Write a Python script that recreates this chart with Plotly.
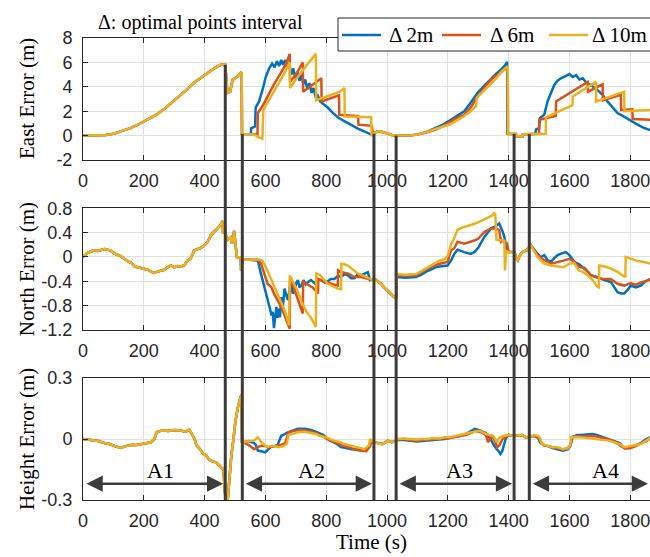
import plotly.graph_objects as go

# ---------------- data ----------------
time_ticks = [0, 200, 400, 600, 800, 1000, 1200, 1400, 1600, 1800]
series_names = ["Δ 2m", "Δ 6m", "Δ 10m"]
series_colors = ["#0072BD", "#D95319", "#EDB120"]

east_ticks = [-2, 0, 2, 4, 6, 8]
north_ticks = [-1.2, -0.8, -0.4, 0, 0.4, 0.8]
north_ticktext = ["-1.2", "-0.8", "-0.4", "0", "0.4", "0.8"]
height_ticks = [-0.3, 0, 0.3]
height_ticktext = ["-0.3", "0", "0.3"]

# boundaries between areas (vertical dark lines) and where they start in the East panel
boundary_t = [468, 524, 957, 1030, 1418, 1468]
boundary_east_top = [5.8, 0.14, 0.15, 0.0, 0.14, 0.12]

area_names = ["A1", "A2", "A3", "A4"]
area_start = [0, 524, 1030, 1468]
area_end = [468, 957, 1418, 1865]
area_label_t = [255, 753, 1237, 1717]
area_arrow_h = -0.22
area_label_h = -0.155

# ---- East error: part shared by all three intervals (A1 + gaps) ----
east_common_t = [0, 40, 75, 103, 130, 158, 185, 213, 240, 267, 295, 322, 345, 366, 385, 401, 415, 431, 445, 455,
                 462, 468, 472, 475, 484, 492, 508, 522, 523, 535, 548,
                 956, 958, 965, 975, 985, 995, 1005, 1015, 1025, 1031,
                 1400, 1424, 1425, 1446, 1447, 1470]
east_common_v = [0, 0, 0.05, 0.16, 0.38, 0.63, 0.95, 1.3, 1.7, 2.17, 2.75, 3.34, 3.85, 4.35, 4.7, 4.97, 5.2, 5.5, 5.7, 5.84,
                 5.78, 5.8, 4.5, 3.5, 3.6, 4.55, 4.85, 5.2, 0.14, 0.12, 0.12,
                 0.0, 0.2, 0.3, 0.35, 0.3, 0.25, 0.15, 0.05, 0.0, 0.0,
                 0.14, 0.14, -0.05, -0.05, 0.12, 0.12]

east_2m_t = [552, 553, 566, 568, 579, 590, 601, 612, 622, 630, 638, 645, 652, 658, 665, 672, 678, 685, 692, 698,
             705, 712, 718, 725, 731, 738, 745, 752, 758, 765, 772, 780, 790, 805, 820, 838, 855, 871, 888, 904,
             920, 935, 948, 954,
             1035, 1080, 1100, 1130, 1155, 1180, 1210, 1230, 1254, 1275, 1298, 1320, 1342, 1360, 1375, 1388, 1395, 1396,
             1473, 1488, 1490, 1500, 1503, 1517, 1528, 1539, 1550, 1561, 1572, 1589, 1600, 1611, 1622, 1633, 1644, 1655,
             1670, 1692, 1709, 1725, 1742, 1758, 1774, 1791, 1807, 1824, 1846, 1868]
east_2m_v = [0.12, 0.6, 0.75, 2.3, 2.8, 3.7, 4.8, 5.5, 5.9, 5.6, 6.1, 5.7, 6.2, 5.8, 6.2, 5.5, 6.0, 5.0, 5.5, 4.7,
             5.2, 4.5, 5.0, 4.2, 4.6, 3.8, 4.3, 3.5, 3.9, 3.2, 3.3, 2.8, 2.6, 2.3, 1.9, 1.5, 1.25, 1.0, 0.8, 0.57,
             0.4, 0.2, 0.05, 0.0,
             0.0, 0.02, 0.1, 0.3, 0.55, 0.85, 1.3, 1.6, 2.0, 2.7, 3.5, 4.1, 4.7, 5.1, 5.4, 5.75, 6.05, 0.15,
             0.12, 0.15, 0.5, 0.6, 1.45, 1.7, 2.8, 3.5, 4.15, 4.5, 4.7, 4.9, 5.05, 4.8, 4.95, 4.6, 4.7, 4.35,
             4.15, 3.75, 3.35, 2.8, 2.35, 1.85, 1.63, 1.36, 1.17, 0.9, 0.62, 0.43]

east_6m_t = [552, 574, 575, 590, 607, 628, 650, 668, 680, 681, 700, 723, 724, 750, 784, 785, 810, 842, 843, 870,
             905, 906, 930, 950, 954,
             1035, 1080, 1100, 1130, 1160, 1185, 1210, 1230, 1254, 1275, 1298, 1320, 1342, 1365, 1380, 1397, 1398,
             1473, 1500, 1501, 1539, 1555, 1556, 1600, 1630, 1660, 1661, 1709, 1710, 1740, 1769, 1770, 1807, 1808, 1868]
east_6m_v = [0.12, 0.1, 1.85, 2.4, 3.2, 4.2, 5.1, 5.9, 6.7, 4.4, 5.0, 6.0, 3.6, 4.1, 4.7, 2.8, 3.0, 3.3, 1.7, 1.65,
             1.6, 0.9, 0.85, 0.8, 0.05,
             0.0, 0.02, 0.08, 0.25, 0.5, 0.8, 1.17, 1.45, 1.7, 2.3, 3.2, 3.9, 4.6, 5.0, 5.3, 5.65, 0.15,
             0.12, 0.15, 1.3, 1.55, 1.6, 2.8, 3.5, 3.95, 4.4, 3.6, 4.2, 2.9, 3.1, 3.35, 2.1, 2.15, 1.36, 1.3]

east_10m_t = [552, 563, 575, 590, 593, 600, 620, 640, 660, 680, 681, 700, 720, 740, 766, 767, 790, 820, 845, 860,
              861, 900, 930, 948, 949, 954,
              1035, 1080, 1100, 1130, 1160, 1185, 1210, 1230, 1254, 1275, 1293, 1295, 1320, 1342, 1360, 1375, 1397, 1398,
              1473, 1522, 1523, 1560, 1610, 1611, 1650, 1687, 1688, 1735, 1780, 1781, 1820, 1868]
east_10m_v = [0.12, 0.1, -0.1, -0.25, 2.1, 2.4, 3.3, 4.2, 5.0, 6.0, 3.9, 4.6, 5.3, 5.9, 6.7, 2.9, 3.1, 3.4, 3.6, 3.9,
              1.57, 1.55, 1.52, 1.5, 0.05, 0.1,
              0.0, 0.02, 0.08, 0.3, 0.55, 0.75, 0.95, 1.25, 1.6, 2.0, 2.4, 3.1, 3.7, 4.2, 4.7, 5.2, 5.7, 0.15,
              0.12, 0.15, 1.5, 1.9, 2.5, 3.2, 3.8, 4.4, 2.8, 3.2, 3.6, 2.0, 2.05, 2.1]

# ---- North error ----
north_common_t = [0, 8, 15, 26, 37, 48, 59, 70, 81, 92, 103, 114, 125, 136, 147, 158, 169, 180, 191, 202,
                  213, 224, 234, 245, 256, 267, 278, 289, 300, 311, 322, 333, 344, 355, 366, 377, 388, 399, 410, 421,
                  432, 442, 452, 459, 461, 466, 470, 475, 480, 486, 490, 494, 497, 502, 506, 512, 519, 520, 522, 524,
                  540, 555,
                  956, 965, 980, 990, 1002, 1015, 1024, 1030,
                  1400, 1419, 1425, 1430, 1440, 1446, 1455, 1462, 1470]
north_common_v = [0, 0.04, 0.07, 0.09, 0.11, 0.1, 0.12, 0.13, 0.12, 0.1, 0.06, 0.04, 0.01, -0.03, -0.07, -0.09, -0.15, -0.17, -0.18, -0.19,
                  -0.21, -0.24, -0.26, -0.24, -0.23, -0.21, -0.17, -0.14, -0.17, -0.15, -0.16, -0.14, -0.06, -0.02, 0.11, 0.13, 0.15, 0.19, 0.25, 0.36,
                  0.42, 0.47, 0.52, 0.59, 0.38, 0.5, 0.35, 0.28, 0.3, 0.32, 0.22, 0.3, 0.43, 0.16, 0.0, -0.01, -0.01, -0.22, -0.05, -0.05,
                  -0.04, -0.045,
                  -0.36, -0.38, -0.44, -0.5, -0.55, -0.62, -0.66, -0.68,
                  0.08, 0.08, -0.02, -0.055, 0.05, 0.08, 0.1, 0.12, 0.19]

north_2m_t = [563, 575, 585, 592, 598, 604, 609, 615, 620, 624, 628, 632, 636, 640, 644, 648, 652, 656, 660, 663,
              668, 674, 680, 685, 690, 696, 702, 707, 712, 718, 725, 732, 740, 750, 762, 772, 784, 795, 805, 815,
              827, 838, 849, 860, 871, 882, 893, 904, 915, 926, 937, 944, 952,
              1032, 1060, 1095, 1110, 1133, 1166, 1199, 1211, 1221, 1232, 1254, 1275, 1287, 1300, 1320, 1342, 1355, 1369,
              1380, 1386, 1392, 1398,
              1472, 1485, 1495, 1506, 1517, 1528, 1539, 1550, 1561, 1575, 1588, 1600, 1616, 1632, 1649, 1660, 1670, 1685,
              1703, 1720, 1736, 1748, 1758, 1770, 1780, 1790, 1802, 1818, 1835, 1850, 1868]
north_2m_v = [-0.045, -0.06, -0.27, -0.4, -0.49, -0.62, -0.71, -0.85, -0.96, -0.9, -1.17, -0.95, -0.82, -1.0, -0.85, -0.99, -0.66, -0.88, -0.7, -0.52,
              -0.62, -0.71, -0.5, -0.47, -0.6, -0.55, -0.42, -0.38, -0.5, -0.47, -0.38, -0.45, -0.41, -0.38, -0.43, -0.37, -0.38, -0.42, -0.4, -0.36,
              -0.36, -0.31, -0.33, -0.28, -0.3, -0.35, -0.35, -0.28, -0.3, -0.27, -0.25, -0.38, -0.36,
              -0.33, -0.34, -0.33, -0.3, -0.23, -0.16, -0.14, -0.055, 0.05, 0.12, 0.08, 0.05, 0.08, 0.15, 0.33, 0.47, 0.5, 0.55,
              0.42, 0.33, 0.16, 0.08,
              0.2, 0.12, 0.05, 0.0, 0.03, -0.05, -0.08, -0.02, 0.03, 0.06, 0.08, 0.03, -0.08, -0.12, -0.19, -0.24, -0.3, -0.32,
              -0.36, -0.38, -0.41, -0.5, -0.58, -0.6, -0.6, -0.55, -0.47, -0.5, -0.47, -0.4, -0.36]

north_6m_t = [563, 574, 585, 607, 620, 630, 652, 665, 680, 681, 690, 700, 710, 723, 724, 740, 755, 773, 774, 790,
              805, 820, 838, 839, 850, 871, 893, 915, 937, 952,
              1032, 1060, 1095, 1110, 1133, 1166, 1199, 1211, 1221, 1232, 1254, 1287, 1300, 1320, 1342, 1360, 1369, 1375,
              1380, 1395, 1398,
              1472, 1495, 1517, 1539, 1560, 1580, 1600, 1616, 1630, 1650, 1670, 1690, 1710, 1736, 1758, 1780, 1802, 1818,
              1835, 1850, 1868]
north_6m_v = [-0.045, -0.04, -0.1, -0.44, -0.5, -0.62, -0.82, -1.0, -1.18, -0.38, -0.45, -0.6, -0.75, -0.93, -0.41, -0.45, -0.5, -0.6, -0.36, -0.4,
              -0.42, -0.44, -0.47, -0.22, -0.25, -0.27, -0.33, -0.33, -0.36, -0.38,
              -0.3, -0.31, -0.3, -0.26, -0.19, -0.12, -0.08, 0.11, 0.14, 0.25, 0.22, 0.27, 0.3, 0.41, 0.47, 0.47, 0.44, 0.25,
              0.27, 0.22, 0.08,
              0.2, 0.03, -0.05, -0.11, -0.09, -0.06, -0.03, -0.08, -0.16, -0.18, -0.3, -0.34, -0.36, -0.36, -0.44, -0.47, -0.43, -0.46,
              -0.42, -0.4, -0.36]

north_10m_t = [563, 580, 590, 600, 618, 635, 650, 665, 678, 680, 690, 705, 720, 735, 750, 766, 767, 780, 805, 820,
               838, 849, 850, 860, 871, 904, 937, 954,
               1032, 1060, 1095, 1110, 1130, 1150, 1170, 1190, 1200, 1210, 1220, 1232, 1245, 1260, 1275, 1290, 1305, 1320,
               1335, 1345, 1353, 1356, 1360, 1375, 1386, 1388, 1392, 1398,
               1472, 1495, 1517, 1539, 1560, 1580, 1600, 1616, 1630, 1645, 1660, 1676, 1692, 1697, 1698, 1720, 1740, 1760,
               1780, 1784, 1785, 1800, 1820, 1840, 1868]
north_10m_v = [-0.045, -0.04, -0.06, -0.15, -0.36, -0.55, -0.71, -0.9, -1.12, -0.3, -0.4, -0.55, -0.75, -0.9, -1.0, -1.15, -0.27, -0.3, -0.44, -0.48,
               -0.52, -0.53, -0.11, -0.12, -0.14, -0.27, -0.35, -0.38,
               -0.28, -0.29, -0.28, -0.24, -0.18, -0.12, -0.07, -0.03, 0.02, 0.2, 0.3, 0.45, 0.48, 0.5, 0.52, 0.55, 0.58, 0.62,
               0.65, 0.68, 0.72, 0.7, 0.28, 0.28, 0.27, -0.22, 0.1, 0.08,
               0.2, 0.0, -0.11, -0.14, -0.16, -0.17, -0.11, -0.1, -0.22, -0.25, -0.3, -0.38, -0.49, -0.5, -0.14, -0.16, -0.2, -0.25,
               -0.32, -0.32, 0.0, -0.03, -0.06, -0.08, -0.11]

# ---- Height error ----
height_common_t = [0, 25, 51, 70, 87, 105, 123, 140, 158, 176, 194, 210, 224, 235, 242, 255, 265, 280, 301, 320,
                   337, 350, 361, 367, 373, 385, 396, 405, 414, 426, 438, 448, 456, 462, 466, 470, 476, 481, 488, 495,
                   501, 510, 519, 521, 523,
                   956, 970, 985, 1003, 1015, 1025, 1030,
                   1400, 1414, 1430, 1444, 1456, 1465]
height_common_v = [0, -0.005, -0.01, -0.02, -0.025, -0.035, -0.044, -0.035, -0.03, -0.03, -0.025, -0.02, -0.016, 0.0, 0.033, 0.04, 0.042, 0.04, 0.044, 0.042,
                   0.036, 0.045, 0.016, 0.0, -0.03, -0.05, -0.074, -0.08, -0.1, -0.11, -0.115, -0.13, -0.14, -0.15, -0.25, -0.3, -0.3, -0.2, -0.08, 0.0,
                   0.085, 0.16, 0.21, 0.22, -0.02,
                   -0.016, -0.02, -0.025, -0.008, -0.016, -0.012, -0.01,
                   0.02, 0.016, 0.02, 0.02, 0.008, 0.012]

height_2m_t = [527, 545, 563, 569, 575, 587, 599, 610, 617, 630, 640, 652, 660, 670, 685, 706, 730, 750, 765, 790,
               813, 830, 849, 865, 884, 900, 920, 935, 944, 950,
               1035, 1055, 1075, 1098, 1115, 1134, 1150, 1170, 1190, 1206, 1225, 1241, 1260, 1277, 1289, 1301, 1315, 1325,
               1340, 1355, 1367, 1373, 1379, 1384, 1390, 1396,
               1473, 1485, 1497, 1505, 1515, 1530, 1544, 1560, 1579, 1595, 1603, 1610, 1625, 1639, 1660, 1675, 1690, 1711,
               1730, 1746, 1765, 1782, 1800, 1818, 1835, 1853, 1868]
height_2m_v = [-0.016, -0.01, -0.02, -0.03, -0.057, -0.06, -0.066, -0.05, -0.04, -0.035, -0.03, 0.016, 0.02, 0.03, 0.04, 0.05, 0.05, 0.045, 0.036, 0.02,
               -0.008, -0.02, -0.04, -0.045, -0.05, -0.052, -0.057, -0.05, -0.03, -0.01,
               -0.005, -0.005, -0.01, -0.012, -0.01, -0.008, -0.005, -0.005, 0.0, 0.005, 0.01, 0.015, 0.025, 0.04, 0.05, 0.045, 0.035, 0.03,
               0.0, -0.04, -0.06, -0.074, -0.06, -0.03, 0.0, 0.015,
               0.013, 0.015, 0.005, -0.02, -0.03, -0.035, -0.045, -0.05, -0.057, -0.05, -0.035, 0.01, 0.02, 0.02, 0.022, 0.025, 0.02, 0.008,
               0.0, -0.01, -0.02, -0.045, -0.04, -0.03, -0.02, 0.0, 0.01]

height_6m_t = [527, 545, 563, 575, 587, 600, 611, 630, 650, 665, 676, 695, 718, 740, 765, 790, 810, 830, 850, 872,
               890, 908, 932, 944, 950,
               1035, 1055, 1075, 1098, 1115, 1134, 1150, 1170, 1190, 1206, 1225, 1241, 1260, 1277, 1290, 1310, 1325, 1332,
               1337, 1345, 1355, 1362, 1370, 1380, 1390, 1396,
               1473, 1485, 1497, 1505, 1515, 1530, 1544, 1560, 1579, 1595, 1603, 1610, 1625, 1639, 1660, 1675, 1690, 1711,
               1730, 1746, 1765, 1782, 1800, 1818, 1835, 1853, 1868]
height_6m_v = [-0.016, -0.03, -0.05, -0.04, -0.033, -0.035, -0.04, -0.035, -0.03, -0.02, 0.033, 0.04, 0.044, 0.04, 0.03, 0.012, -0.005, -0.016, -0.03, -0.04,
               -0.05, -0.057, -0.06, -0.035, -0.01,
               -0.002, 0.0, -0.005, -0.008, -0.005, -0.003, 0.0, 0.0, 0.005, 0.005, 0.012, 0.016, 0.02, 0.03, 0.04, 0.033, 0.02, -0.016,
               -0.005, 0.015, -0.01, -0.04, -0.03, 0.0, 0.01, 0.018,
               0.013, 0.016, 0.01, -0.01, -0.03, -0.035, -0.04, -0.045, -0.052, -0.045, -0.03, 0.01, 0.015, 0.012, 0.015, 0.015, 0.012, 0.005,
               -0.005, -0.01, -0.03, -0.047, -0.045, -0.035, -0.02, -0.01, 0.005]

height_10m_t = [527, 545, 563, 575, 587, 605, 622, 646, 660, 670, 676, 690, 706, 730, 750, 765, 780, 801, 825, 845,
                860, 880, 896, 910, 926, 941, 944, 950,
                1035, 1055, 1075, 1098, 1115, 1134, 1150, 1170, 1190, 1206, 1225, 1241, 1260, 1277, 1290, 1301, 1315, 1325,
                1337, 1349, 1356, 1361, 1366, 1372, 1384, 1396,
                1473, 1485, 1497, 1505, 1509, 1520, 1544, 1560, 1579, 1595, 1603, 1605, 1620, 1639, 1660, 1675, 1690, 1711,
                1730, 1746, 1765, 1782, 1800, 1818, 1835, 1853, 1868]
height_10m_v = [-0.016, -0.01, -0.008, 0.008, -0.016, -0.04, -0.033, -0.04, -0.035, -0.025, 0.02, 0.025, 0.033, 0.036, 0.03, 0.025, 0.015, 0.008, -0.008, -0.015,
                -0.025, -0.032, -0.04, -0.045, -0.05, -0.03, 0.0, -0.01,
                0.0, 0.003, 0.0, -0.003, 0.0, 0.0, 0.005, 0.003, 0.008, 0.008, 0.015, 0.02, 0.025, 0.033, 0.035, 0.04, 0.035, 0.025,
                0.02, 0.016, 0.0, -0.016, 0.0, 0.008, 0.016, 0.02,
                0.013, 0.02, 0.016, 0.0, -0.025, -0.03, -0.04, -0.04, -0.05, -0.045, -0.03, 0.008, 0.01, 0.008, 0.005, 0.0, 0.0, -0.003,
                -0.008, -0.016, -0.025, -0.04, -0.035, -0.03, -0.025, -0.008, 0.008]

# ---------------- styling ----------------
W, H = 650, 557
M_L, M_R, M_T, M_B = 83, 0, 38, 57
PLOT_W = W - M_L - M_R
PLOT_H = H - M_T - M_B
SERIF = "Liberation Serif, Times New Roman, serif"
SANS = "Liberation Sans, Arial, sans-serif"
AX = "#262626"
GRID = "#e0e0e0"
DARK = "#3c3c3c"
X_MAX = 1865


def pxx(px):
    return (px - M_L) / PLOT_W


def pxy(py):
    return (H - M_B - py) / PLOT_H


def merge(ct, cv, st, sv):
    pts = sorted(zip(ct + st, cv + sv), key=lambda p: p[0])
    return [p[0] for p in pts], [p[1] for p in pts]


fig = go.Figure()

panels = [
    ("x", "y", east_common_t, east_common_v,
     [(east_2m_t, east_2m_v), (east_6m_t, east_6m_v), (east_10m_t, east_10m_v)]),
    ("x2", "y2", north_common_t, north_common_v,
     [(north_2m_t, north_2m_v), (north_6m_t, north_6m_v), (north_10m_t, north_10m_v)]),
    ("x3", "y3", height_common_t, height_common_v,
     [(height_2m_t, height_2m_v), (height_6m_t, height_6m_v), (height_10m_t, height_10m_v)]),
]
for xa, ya, ct, cv, series in panels:
    for (st, sv), name, color in zip(series, series_names, series_colors):
        tt, vv = merge(ct, cv, st, sv)
        fig.add_trace(go.Scatter(x=tt, y=vv, mode="lines", name=name, xaxis=xa, yaxis=ya,
                                 line=dict(color=color, width=2.5), showlegend=False,
                                 hoverinfo="skip"))

xcommon = dict(range=[0, X_MAX], tickmode="array", tickvals=time_ticks,
               ticktext=[str(t) for t in time_ticks], ticks="inside", ticklen=5, tickcolor=AX,
               showline=True, linecolor=AX, linewidth=1, mirror="ticks",
               showgrid=True, gridcolor=GRID, gridwidth=1, zeroline=False,
               tickfont=dict(family=SANS, size=18, color=AX), ticklabelstandoff=4,
               ticklabeloverflow="allow")
ycommon = dict(ticks="inside", ticklen=5, tickcolor=AX, showline=True, linecolor=AX, linewidth=1,
               mirror=False, showgrid=True, gridcolor=GRID, gridwidth=1, zeroline=False,
               tickfont=dict(family=SANS, size=18, color=AX), ticklabelstandoff=6)

dom_top = [pxy(160), 1.0]
dom_mid = [pxy(330), pxy(208.3)]
dom_bot = [0.0, pxy(378)]

fig.update_layout(
    width=W, height=H, autosize=False,
    margin=dict(l=M_L, r=M_R, t=M_T, b=M_B, pad=0),
    paper_bgcolor="white", plot_bgcolor="white",
    showlegend=False,
    xaxis=dict(xcommon, anchor="y", domain=[0, 1]),
    xaxis2=dict(xcommon, anchor="y2", domain=[0, 1]),
    xaxis3=dict(xcommon, anchor="y3", domain=[0, 1]),
    yaxis=dict(ycommon, anchor="x", domain=dom_top, range=[-2, 8], tickmode="array",
               tickvals=east_ticks, ticktext=[str(t) for t in east_ticks]),
    yaxis2=dict(ycommon, anchor="x2", domain=dom_mid, range=[-1.2, 0.8], tickmode="array",
                tickvals=north_ticks, ticktext=north_ticktext),
    yaxis3=dict(ycommon, anchor="x3", domain=dom_bot, range=[-0.3, 0.3], tickmode="array",
                tickvals=height_ticks, ticktext=height_ticktext),
)

shapes = []
# vertical boundary lines: from the East curve down to the bottom of the Height panel
for bt, top_v in zip(boundary_t, boundary_east_top):
    shapes.append(dict(type="line", xref="x", yref="y", x0=bt, x1=bt, y0=-2, y1=top_v,
                       line=dict(color=DARK, width=3), layer="above"))
    shapes.append(dict(type="line", xref="x", yref="paper", x0=bt, x1=bt, y0=0, y1=dom_top[0],
                       line=dict(color=DARK, width=3), layer="above"))

# legend box (drawn manually, extends beyond the right edge like the reference)
shapes.append(dict(type="rect", xref="paper", yref="paper", x0=pxx(338), x1=pxx(700),
                   y0=pxy(51), y1=pxy(18), line=dict(color=AX, width=1), fillcolor="white",
                   layer="above"))
leg_line_x = [342, 442, 549]
leg_text_x = [387, 488, 590]
annotations = []
for lx, tx, name, color in zip(leg_line_x, leg_text_x, series_names, series_colors):
    shapes.append(dict(type="line", xref="paper", yref="paper", x0=pxx(lx), x1=pxx(lx + 39),
                       y0=pxy(35), y1=pxy(35), line=dict(color=color, width=2.5), layer="above"))
    annotations.append(dict(text=name, xref="paper", yref="paper", x=pxx(tx), y=pxy(35),
                            xanchor="left", yanchor="middle", showarrow=False,
                            font=dict(family=SERIF, size=21, color="black")))

# note
annotations.append(dict(text="Δ: optimal points interval", xref="paper", yref="paper",
                        x=pxx(96), y=pxy(22), xanchor="left", yanchor="middle", showarrow=False,
                        font=dict(family=SERIF, size=20, color="black")))

# y titles
for title, (d0, d1) in zip(["East Error (m)", "North Error (m)", "Height Error (m)"],
                           [dom_top, dom_mid, dom_bot]):
    annotations.append(dict(text=title, xref="paper", yref="paper", x=pxx(27), y=(d0 + d1) / 2,
                            xanchor="center", yanchor="middle", textangle=-90, showarrow=False,
                            font=dict(family=SERIF, size=21, color="black")))
# x title
annotations.append(dict(text="Time (s)", xref="paper", yref="paper", x=pxx(371), y=pxy(556),
                        xanchor="center", yanchor="bottom", showarrow=False,
                        font=dict(family=SERIF, size=21, color="black")))

# area arrows and labels
for name, a0, a1, lt in zip(area_names, area_start, area_end, area_label_t):
    annotations.append(dict(text="", x=a1, y=area_arrow_h, ax=a0, ay=area_arrow_h,
                            xref="x3", yref="y3", axref="x3", ayref="y3", showarrow=True,
                            arrowside="end+start", arrowhead=2, startarrowhead=2,
                            arrowsize=1.3, startarrowsize=1.3, arrowwidth=2.5, arrowcolor=DARK,
                            standoff=2, startstandoff=2))
    annotations.append(dict(text=name, x=lt, y=area_label_h, xref="x3", yref="y3",
                            showarrow=False, xanchor="center", yanchor="middle",
                            font=dict(family=SERIF, size=22, color="black")))

fig.update_layout(shapes=shapes, annotations=annotations)

fig.write_html("out.html")
